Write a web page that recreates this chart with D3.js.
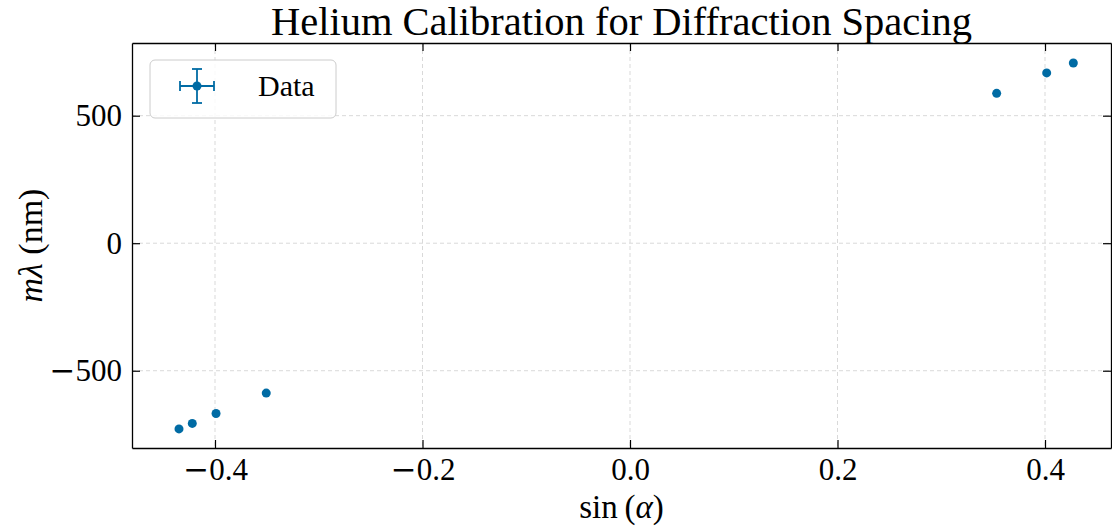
<!DOCTYPE html>
<html>
<head>
<meta charset="utf-8">
<script src="https://cdn.jsdelivr.net/npm/d3@7"></script>
<style>
  body { margin: 0; background: #fff; }
  svg { font-family: "Liberation Serif", "DejaVu Serif", serif; }
</style>
</head>
<body>
<svg id="chart" width="1112" height="527"></svg>
<script>
// helium lines, both diffraction orders
const sinAlpha = [-0.4347, -0.4219, -0.3990, -0.3506, 0.3534, 0.4016, 0.4273]
const mLambda = [-728.1, -706.5, -667.8, -587.6, 587.6, 667.8, 706.5]
const xTicks = [-0.4, -0.2, 0.0, 0.2, 0.4]
const yTicks = [-500, 0, 500]
const titleText = "Helium Calibration for Diffraction Spacing"
const legendLabel = "Data"

let svg = d3.select("#chart"),
    margin = {top: 43, right: 1, bottom: 79, left: 132},
    width = svg.attr("width") - margin.left - margin.right,
    height = svg.attr("height") - margin.top - margin.bottom,
    g = svg.append("g").attr("transform", "translate(" + margin.left + "," + margin.top + ")");

const color = "#006BA4"

let x = d3.scaleLinear().domain([-0.48, 0.4636]).range([0, width]),
    y = d3.scaleLinear().domain([-803, 785]).range([height, 0]);

// grid
g.append("g").selectAll("line").data(xTicks).enter().append("line")
    .attr("x1", d => x(d)).attr("x2", d => x(d))
    .attr("y1", 0).attr("y2", height)
    .style("stroke", "#d9d9d9").style("stroke-dasharray", "4,3").style("stroke-width", 1)
g.append("g").selectAll("line").data(yTicks).enter().append("line")
    .attr("y1", d => y(d)).attr("y2", d => y(d))
    .attr("x1", 0).attr("x2", width)
    .style("stroke", "#d9d9d9").style("stroke-dasharray", "4,3").style("stroke-width", 1)

// tick labels: math minus is wider, draw it with DejaVu Serif
const putLabel = (sel, s) => {
    sel.text(null)
    if (s[0] == "-") {
        sel.append("tspan").style("font-family", "DejaVu Serif").text("\u2212")
        s = s.slice(1)
    }
    sel.append("tspan").text(s)
}

// axes, ticks pointing inward on all sides
let ax = g.append("g").attr("transform", "translate(0," + height + ")")
    .call(d3.axisBottom(x).tickValues(xTicks).tickSizeInner(-8).tickSizeOuter(0).tickPadding(10).tickFormat(d3.format(".1f")))
let axTop = g.append("g")
    .call(d3.axisTop(x).tickValues(xTicks).tickSizeInner(-8).tickSizeOuter(0).tickFormat(""))
let ay = g.append("g")
    .call(d3.axisLeft(y).tickValues(yTicks).tickSizeInner(-8).tickSizeOuter(0).tickPadding(10).tickFormat(d => String(d)))
let ayRight = g.append("g").attr("transform", "translate(" + width + ",0)")
    .call(d3.axisRight(y).tickValues(yTicks).tickSizeInner(-8).tickSizeOuter(0).tickFormat(""))

;[ax, axTop, ay, ayRight].forEach(a => {
    a.selectAll("path").style("stroke", "#000").style("stroke-width", 1.3)
    a.selectAll(".tick line").style("stroke", "#000").style("stroke-width", 1.2)
    a.selectAll("text").style("font-family", "Liberation Serif").style("font-size", "31px").attr("fill", "#000")
})
ax.selectAll(".tick text").each(function(d) { putLabel(d3.select(this), d3.format(".1f")(d).replace("\u2212", "-")) })
ay.selectAll(".tick text").each(function(d) { putLabel(d3.select(this), String(d)) })

// data points
g.selectAll(".pt").data(sinAlpha).enter().append("circle")
    .attr("class", "pt")
    .attr("cx", d => x(d))
    .attr("cy", (d, i) => y(mLambda[i]))
    .attr("r", 4.5)
    .style("fill", color)

// title and labels
svg.append("text")
    .attr("x", margin.left + width / 2).attr("y", 35)
    .attr("text-anchor", "middle")
    .style("font-size", "40.5px")
    .text(titleText)

let xl = svg.append("text")
    .attr("x", margin.left + width / 2).attr("y", 518)
    .attr("text-anchor", "middle")
    .style("font-size", "33px")
xl.append("tspan").text("sin")
xl.append("tspan").text("\u2009(")
xl.append("tspan").style("font-style", "italic").text("\u03b1")
xl.append("tspan").text(")")

let yl = svg.append("text")
    .attr("transform", "translate(42," + (margin.top + height / 2) + ") rotate(-90)")
    .attr("text-anchor", "middle")
    .style("font-size", "34px")
yl.append("tspan").style("font-style", "italic").text("m\u03bb")
yl.append("tspan").text(" (nm)")

// legend
let lg = svg.append("g").attr("transform", "translate(150,60)")
lg.append("rect")
    .attr("width", 186).attr("height", 58).attr("rx", 5)
    .style("fill", "#fff").style("fill-opacity", 0.85)
    .style("stroke", "#cccccc").style("stroke-width", 1)
lg.append("line").attr("x1", 30).attr("x2", 64).attr("y1", 26).attr("y2", 26)
    .style("stroke", color).style("stroke-width", 1.8)
lg.append("line").attr("x1", 47).attr("x2", 47).attr("y1", 9).attr("y2", 43)
    .style("stroke", color).style("stroke-width", 1.8)
lg.append("line").attr("x1", 30).attr("x2", 30).attr("y1", 21).attr("y2", 31)
    .style("stroke", color).style("stroke-width", 1.8)
lg.append("line").attr("x1", 64).attr("x2", 64).attr("y1", 21).attr("y2", 31)
    .style("stroke", color).style("stroke-width", 1.8)
lg.append("line").attr("x1", 42).attr("x2", 52).attr("y1", 9).attr("y2", 9)
    .style("stroke", color).style("stroke-width", 1.8)
lg.append("line").attr("x1", 42).attr("x2", 52).attr("y1", 43).attr("y2", 43)
    .style("stroke", color).style("stroke-width", 1.8)
lg.append("circle").attr("cx", 47).attr("cy", 26).attr("r", 4.5).style("fill", color)
lg.append("text").attr("x", 108).attr("y", 36)
    .style("font-size", "30px")
    .text(legendLabel)
</script>
</body>
</html>
